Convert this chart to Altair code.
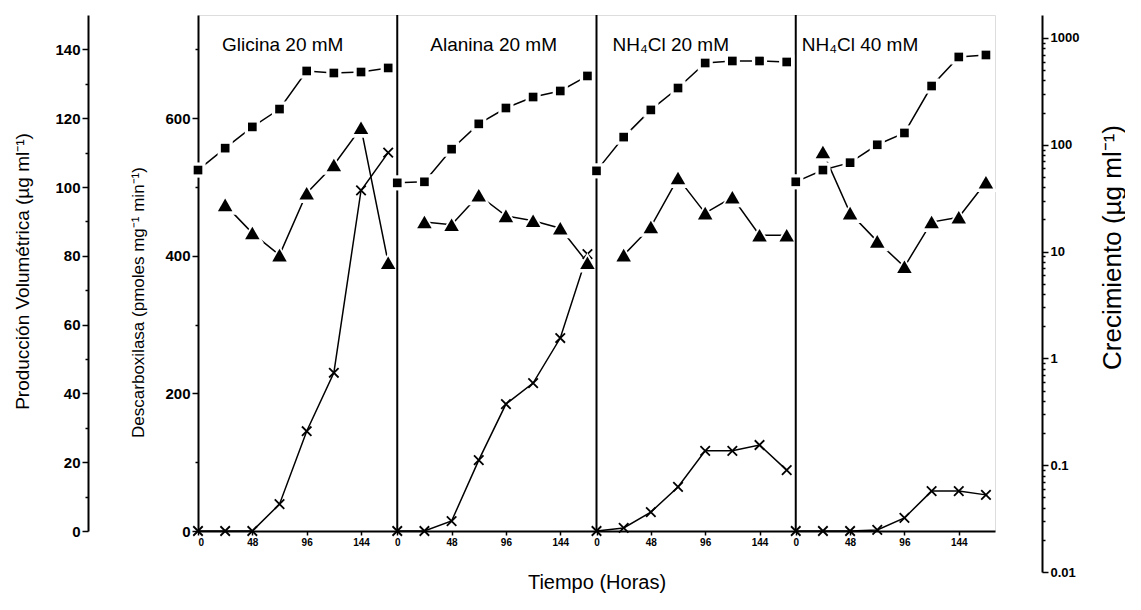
import altair as alt
import pandas as pd

FONT = "Liberation Sans"

# ---------------- data ----------------
panels = ["Glicina 20 mM", "Alanina 20 mM", "NH₄Cl 20 mM", "NH₄Cl 40 mM"]
hours = [0, 24, 48, 72, 96, 120, 144, 168]
tri_hours = [24, 48, 72, 96, 120, 144, 168]
panel_span = 176  # hours of x-axis allotted to each panel

# Crecimiento (µg ml-1) – squares, log axis
growth_glicina = [58, 93, 147, 216, 491, 470, 480, 524]
growth_alanina = [44, 45, 91, 157, 221, 280, 319, 441]
growth_nh4cl20 = [57, 118, 212, 340, 583, 609, 609, 596]
growth_nh4cl40 = [45, 58, 68, 100, 129, 355, 664, 693]

# Descarboxilasa (pmoles mg-1 min-1) – triangles
desc_glicina = [474, 433, 401, 491, 532, 586, 390]
desc_alanina = [449, 445, 488, 458, 451, 440, 390]
desc_nh4cl20 = [401, 442, 513, 462, 485, 430, 430]
desc_nh4cl40 = [551, 462, 421, 384, 449, 456, 507]

# Producción volumétrica (µg ml-1) – crosses
prod_glicina = [0, 0, 0, 7.8, 29, 46, 99, 110]
prod_alanina = [0, 0, 2.9, 20.6, 36.9, 43, 56.1, 80.5]
prod_nh4cl20 = [0, 0.9, 5.5, 12.8, 23.3, 23.3, 25, 17.7]
prod_nh4cl40 = [0, 0, 0, 0.3, 3.8, 11.6, 11.6, 10.5]

growth = [growth_glicina, growth_alanina, growth_nh4cl20, growth_nh4cl40]
desc = [desc_glicina, desc_alanina, desc_nh4cl20, desc_nh4cl40]
prod = [prod_glicina, prod_alanina, prod_nh4cl20, prod_nh4cl40]

rows_g, rows_d, rows_p = [], [], []
for k in range(4):
    for h, v in zip(hours, growth[k]):
        rows_g.append({"panel": k, "gx": k * panel_span + h, "growth": v})
    for h, v in zip(tri_hours, desc[k]):
        rows_d.append({"panel": k, "gx": k * panel_span + h, "desc": v})
    for h, v in zip(hours, prod[k]):
        rows_p.append({"panel": k, "gx": k * panel_span + h, "prod": v})
df_g = pd.DataFrame(rows_g)
df_d = pd.DataFrame(rows_d)
df_p = pd.DataFrame(rows_p)
df_div = pd.DataFrame({"gx": [k * panel_span for k in range(1, 4)]})
df_lab = pd.DataFrame({"panel": list(range(4)),
                       "gx": [k * panel_span for k in range(4)],
                       "label": panels})
label_dx = [24, 33, 16, 6]

# ---------------- encodings ----------------
xticks = [k * panel_span + h for k in range(4) for h in (0, 48, 96, 144)]
X = alt.X(
    "gx:Q",
    scale=alt.Scale(domain=[0, 4 * panel_span], nice=False, zero=False),
    axis=alt.Axis(
        values=xticks, grid=False,
        labelExpr=f"'' + (datum.value % {panel_span})",
        title="Tiempo (Horas)",
        titleFontSize=20, titleFontWeight="normal",
        titleY=51, titleBaseline="middle",
        labelFontSize=10, labelFontWeight="bold", labelPadding=2,
        tickSize=4, tickWidth=1.5, domainWidth=2,
        domainColor="black", tickColor="black", labelColor="black", titleColor="black",
    ),
)

axis_common = dict(
    grid=False,
    domainColor="black", tickColor="black", labelColor="black", titleColor="black",
    domainWidth=2, tickWidth=1.5, titleFontWeight="normal", labelFontWeight="bold",
)

Y_prod = alt.Y(
    "prod:Q",
    scale=alt.Scale(domain=[0, 150], nice=False, zero=True),
    axis=alt.Axis(
        orient="left", offset=110,
        values=list(range(0, 150, 10)),
        labelExpr="datum.value % 20 === 0 ? datum.label : ''",
        tickSize={"condition": {"test": "datum.value % 20 === 0", "value": 6}, "value": 3},
        title="Producción Volumétrica (µg ml⁻¹)",
        titleX=-66, titleY=256, titleAngle=270, titleBaseline="middle",
        titleFontSize=19, labelFontSize=15,
        **axis_common,
    ),
)

Y_desc = alt.Y(
    "desc:Q",
    scale=alt.Scale(domain=[0, 750], nice=False, zero=True),
    axis=alt.Axis(
        orient="left", offset=0,
        values=list(range(0, 800, 100)),
        labelExpr="datum.value % 200 === 0 ? datum.label : ''",
        tickSize={"condition": {"test": "datum.value % 200 === 0", "value": 6}, "value": 3},
        title="Descarboxilasa (pmoles mg⁻¹ min⁻¹)",
        titleX=-60, titleY=287, titleAngle=270, titleBaseline="middle",
        titleFontSize=17, labelFontSize=15,
        **axis_common,
    ),
)

log_ticks = [round(m * 10.0 ** e, 6) for e in range(-2, 4) for m in range(1, 10)
             if m * 10.0 ** e <= 1000]
is_decade = "abs(log(datum.value)/LN10 - round(log(datum.value)/LN10)) < 0.01"
Y_growth = alt.Y(
    "growth:Q",
    scale=alt.Scale(type="log", domain=[0.01, 1641], range=[557, 0], nice=False),
    axis=alt.Axis(
        orient="right", offset=47,
        values=log_ticks,
        labelExpr=f"{is_decade} ? ('' + datum.value) : ''",
        tickSize={"condition": {"test": is_decade, "value": 6}, "value": 3},
        title="Crecimiento (µg ml⁻¹)",
        titleX=70, titleY=232, titleAngle=270, titleBaseline="middle",
        titleFontSize=26, labelFontSize=13,
        **axis_common,
    ),
)

cross_path = "M-1,-1L1,1M-1,1L1,-1"

# ---------------- layers ----------------
line_p = alt.Chart(df_p).mark_line(color="black", strokeWidth=1.5).encode(
    x=X, y=Y_prod, detail="panel:N")
mark_p = alt.Chart(df_p).mark_point(shape=cross_path, filled=False, color="black",
                                    strokeWidth=1.8, size=90, opacity=1).encode(
    x=X, y=Y_prod)
grp_p = alt.layer(line_p, mark_p)

line_d = alt.Chart(df_d).mark_line(color="black", strokeWidth=1.5).encode(
    x=X, y=Y_desc, detail="panel:N")
halo_d = alt.Chart(df_d).mark_point(shape="triangle-up", filled=True, color="white",
                                    size=520, opacity=1).encode(x=X, y=Y_desc)
mark_d = alt.Chart(df_d).mark_point(shape="triangle-up", filled=True, color="black",
                                    size=210, opacity=1).encode(x=X, y=Y_desc)
rules = alt.Chart(df_div).mark_rule(color="black", strokeWidth=2).encode(x=X)
texts = [
    alt.Chart(df_lab[df_lab["panel"] == k]).mark_text(
        align="left", baseline="middle", dx=label_dx[k], fontSize=19, font=FONT,
        color="black").encode(x=X, y=alt.value(30), text="label:N")
    for k in range(4)
]
grp_d = alt.layer(line_d, halo_d, mark_d, rules, *texts)

line_g = alt.Chart(df_g).mark_line(color="black", strokeWidth=1.5).encode(
    x=X, y=Y_growth, detail="panel:N")
halo_g = alt.Chart(df_g).mark_point(shape="square", filled=True, color="white",
                                    size=230, opacity=1).encode(x=X, y=Y_growth)
mark_g = alt.Chart(df_g).mark_point(shape="square", filled=True, color="black",
                                    size=75, opacity=1).encode(x=X, y=Y_growth)
grp_g = alt.layer(line_g, halo_g, mark_g)

chart = (
    alt.layer(grp_p, grp_d, grp_g)
    .resolve_scale(y="independent")
    .properties(width=797, height=516, autosize="none",
                padding={"left": 190, "top": 7, "right": 130, "bottom": 66})
    .configure_axis(grid=False, labelFont=FONT, titleFont=FONT)
    .configure_view(stroke="black", strokeWidth=2)
    .configure(background="white")
)

chart.save("out.html", embed_options={"renderer": "svg", "actions": False})
